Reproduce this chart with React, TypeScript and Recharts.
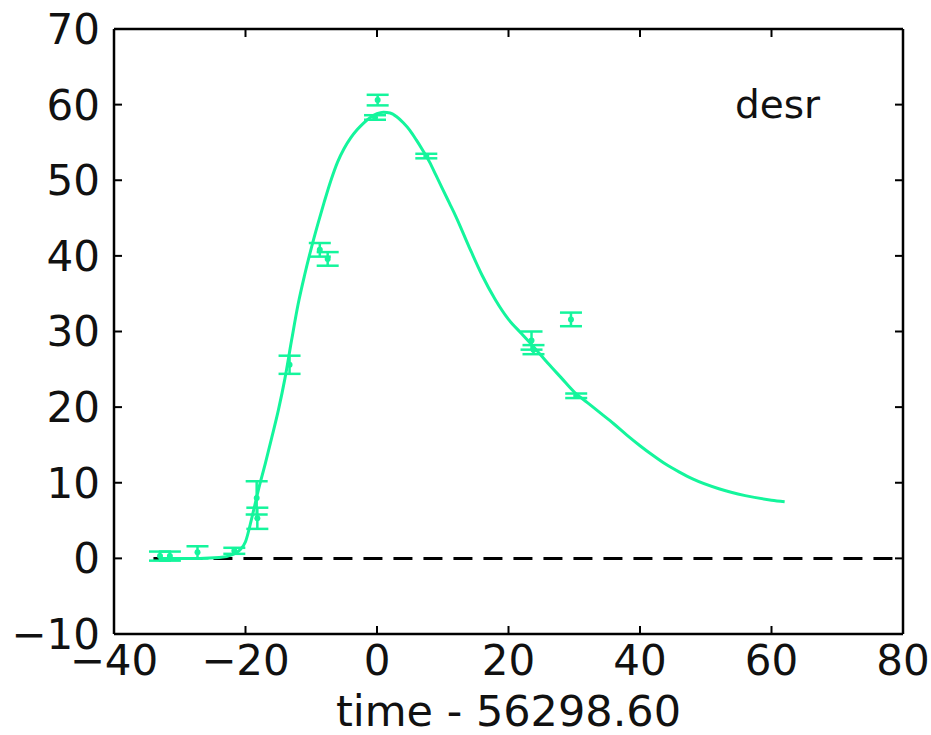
import React from "react";
import {
  ComposedChart,
  Line,
  Scatter,
  ErrorBar,
  XAxis,
  YAxis,
  ReferenceLine,
  Customized,
} from "recharts";

const GREEN = "#14f59c";
const FONT = "'DejaVu Sans', sans-serif";

// fitted light curve
const curveX = [
  -33, -30, -27, -24, -22, -21, -20, -19, -18, -17, -16, -15, -14, -13, -12, -11, -10, -9, -8,
  -7, -6, -5, -4, -3, -2, -1, 0, 1, 2, 3, 4, 5, 6, 7, 8, 9, 10, 11, 12, 14, 16, 18, 20, 22, 24,
  26, 28, 30, 32, 34, 36, 38, 40, 42, 44, 46, 48, 52, 56, 60, 62,
];
const curveY = [
  0, 0, 0, 0.1, 0.5, 1, 2.2, 5.5, 9.2, 12.5, 16, 19.6, 23.8, 28.8, 33.6, 37.5, 41, 44.2, 47.2,
  50, 52.4, 54.2, 55.6, 56.7, 57.6, 58.3, 58.8, 59, 58.9, 58.4, 57.6, 56.6, 55.3, 53.9, 52.4,
  50.6, 48.8, 47, 45.2, 41.2, 37.4, 34.2, 31.6, 29.7, 27.8, 25.8, 23.9, 22, 20.6, 19.2, 17.8,
  16.3, 14.9, 13.6, 12.4, 11.4, 10.5, 9.2, 8.3, 7.7, 7.5,
];

// observations
const obsX = [-33, -31.5, -27.3, -21.7, -18.3, -18.2, -13.3, -8.7, -7.5, 0.1, -0.3, 7.5, 23.5, 23.8, 29.5, 30.3];
const obsY = [0.3, 0.3, 0.8, 1.0, 8.0, 5.3, 25.6, 40.8, 39.6, 60.6, 58.3, 53.2, 28.8, 27.6, 31.6, 21.5];
const obsErr = [0.6, 0.6, 0.8, 0.4, 2.2, 1.4, 1.2, 0.9, 0.9, 0.7, 0.3, 0.3, 1.2, 0.6, 0.9, 0.3];

const xTicks = [-40, -20, 0, 20, 40, 60, 80];
const yTicks = [-10, 0, 10, 20, 30, 40, 50, 60, 70];

const curve = curveX.map((x, i) => ({ x, y: curveY[i] }));
const obs = obsX.map((x, i) => ({ x, y: obsY[i], err: obsErr[i] }));

const fmt = (v: number) => (v < 0 ? `\u2212${Math.abs(v)}` : `${v}`);
const blank = () => "";

const axisLine = { stroke: "#000", strokeWidth: 2.5 };
const tickLine = { stroke: "#000", strokeWidth: 2 };
const tickStyle = { fill: "#111", fontSize: 42, fontFamily: FONT };

const BandLabel = () => (
  <text x={735} y={118} fontSize={39} fontFamily={FONT} fill="#111">
    desr
  </text>
);

const Dot = (props: any) => <circle cx={props.cx} cy={props.cy} r={3} fill={GREEN} />;

export default function App() {
  return (
    <div style={{ position: "absolute", left: 0, top: 0, background: "#fff" }}>
      <ComposedChart
        width={931}
        height={735}
        margin={{ top: 28, right: 27, bottom: 0, left: 0 }}
      >
        <XAxis
          xAxisId="b"
          type="number"
          dataKey="x"
          domain={[-40, 80]}
          ticks={xTicks}
          tickFormatter={fmt}
          allowDataOverflow
          height={101}
          axisLine={axisLine}
          tickLine={tickLine}
          tickSize={-8}
          tickMargin={19}
          tick={tickStyle}
          label={{
            value: "time - 56298.60",
            position: "insideBottom",
            offset: 9,
            style: { fontSize: 43, fontFamily: FONT, fill: "#111" },
          }}
        />
        <XAxis
          xAxisId="t"
          orientation="top"
          type="number"
          dataKey="x"
          domain={[-40, 80]}
          ticks={xTicks}
          tickFormatter={blank}
          allowDataOverflow
          height={1}
          axisLine={axisLine}
          tickLine={tickLine}
          tickSize={-8}
        />
        <YAxis
          yAxisId="l"
          type="number"
          domain={[-10, 70]}
          ticks={yTicks}
          tickFormatter={fmt}
          allowDataOverflow
          width={114}
          axisLine={axisLine}
          tickLine={tickLine}
          tickSize={-8}
          tickMargin={22}
          tick={tickStyle}
        />
        <YAxis
          yAxisId="r"
          orientation="right"
          type="number"
          domain={[-10, 70]}
          ticks={yTicks}
          tickFormatter={blank}
          allowDataOverflow
          width={1}
          axisLine={axisLine}
          tickLine={tickLine}
          tickSize={-8}
        />
        <ReferenceLine
          xAxisId="b"
          yAxisId="l"
          segment={[
            { x: -34, y: 0 },
            { x: 80, y: 0 },
          ]}
          stroke="#000"
          strokeWidth={3}
          strokeDasharray="19 11"
        />
        <Line
          xAxisId="b"
          yAxisId="l"
          data={curve}
          dataKey="y"
          type="monotone"
          stroke={GREEN}
          strokeWidth={3}
          dot={false}
          isAnimationActive={false}
        />
        <Scatter
          xAxisId="b"
          yAxisId="l"
          data={obs}
          dataKey="y"
          fill={GREEN}
          shape={Dot}
          isAnimationActive={false}
        >
          <ErrorBar dataKey="err" direction="y" width={11} stroke={GREEN} strokeWidth={2.5} />
        </Scatter>
        <Customized component={BandLabel} />
      </ComposedChart>
    </div>
  );
}
